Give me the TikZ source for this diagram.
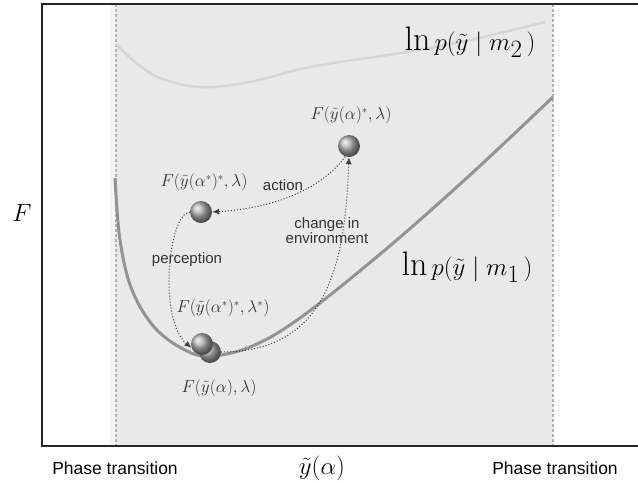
\documentclass[tikz,border=0pt]{standalone}
\usepackage{fontspec}
\usepackage{amsmath}
\usetikzlibrary{arrows.meta, shadings}
\newfontfamily\labelfont{Liberation Sans}

\begin{document}
\begin{tikzpicture}[x=1pt, y=-1pt,
    ballnode/.style={circle, inner sep=0pt, minimum size=22pt, shading=ball, ball color=gray!65},
    flow/.style={dotted, line width=1pt, black!75, -{Latex[length=7pt, width=6pt]}},
    sanslabel/.style={font=\labelfont\fontsize{15}{17}\selectfont, text=black!80},
    statelabel/.style={font=\fontsize{16}{18}\selectfont, text=black!80},
    modellabel/.style={font=\fontsize{34}{38}\selectfont}]
  \useasboundingbox (0,0) rectangle (638,483);

  % Region between the phase transitions
  \fill[gray!8] (110,4) rectangle (553,446);
  \fill[gray!17] (116,4) rectangle (553,446);
  \draw[gray!60, line width=1.2pt, dash pattern=on 3pt off 2pt] (116,4) -- (116,446);
  \draw[gray!60, line width=1.2pt, dash pattern=on 3pt off 2pt] (553,4) -- (553,446);

  % Axes frame
  \draw[line width=2pt, black!85] (638,4) -- (42,4) -- (42,446) -- (638,446);

  % Model m2
  \draw[gray!32, line width=2.5pt] plot[smooth, tension=0.6] coordinates
    {(116,44) (135,62) (160,78) (200,87) (250,82) (310,67) (400,53) (470,40) (545,22)};
  \node[modellabel] (lnm2) at (470,42) {$\ln p(\tilde{y}\;|\;m_{2}\,)$};

  % Model m1
  \draw[gray!85, line width=3pt] plot[smooth, tension=0.6] coordinates
    {(115,178) (120,240) (132,290) (155,328) (185,350) (210,356) (250,347) (300,318) (385,250) (470,175) (553,97)};
  \node[modellabel] (lnm1) at (467,267) {$\ln p(\tilde{y}\;|\;m_{1}\,)$};

  % States
  \node[ballnode] (top) at (349,146) {};
  \node[ballnode] (mid) at (201,212) {};
  \node[ballnode] (lowback) at (210,352) {};
  \node[ballnode] (low) at (202,344) {};

  \node[statelabel] (toplab) at (351,115) {$F(\tilde{y}(\alpha)^{*},\lambda)$};
  \node[statelabel] (midlab) at (204,182) {$F(\tilde{y}(\alpha^{*})^{*},\lambda)$};
  \node[statelabel] (lowlab) at (223,308) {$F(\tilde{y}(\alpha^{*})^{*},\lambda^{*})$};
  \node[statelabel] (startlab) at (219,388) {$F(\tilde{y}(\alpha),\lambda)$};

  % Cycle
  \draw[flow] (top.250) .. controls (325,185) and (280,208) .. (mid.east);
  \draw[flow] (lowback.east) .. controls (330,352) and (345,260) .. (top.south);
  \draw[flow] (mid.west) .. controls (168,214) and (158,320) .. (low.200);

  \node[sanslabel] (action) at (283,185) {action};
  \node[sanslabel, align=center, inner sep=0pt] (env) at (327,231) {change in\\[-2pt]environment};
  \node[sanslabel] (perc) at (187,260) {perception};

  % Axis labels
  \node[font=\fontsize{24}{26}\selectfont] (F) at (22,213) {$F$};
  \node[font=\fontsize{24}{26}\selectfont] (yalpha) at (322,468) {$\tilde{y}(\alpha)$};
  \node[sanslabel, text=black, font=\labelfont\fontsize{17.5}{19}\selectfont] (ptl) at (115,468) {Phase transition};
  \node[sanslabel, text=black, font=\labelfont\fontsize{17.5}{19}\selectfont] (ptr) at (555,468) {Phase transition};
\end{tikzpicture}
\end{document}
